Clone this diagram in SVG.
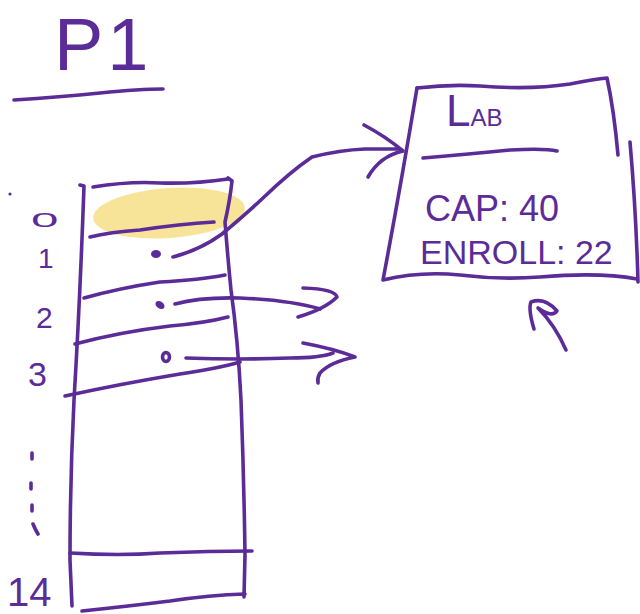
<svg xmlns="http://www.w3.org/2000/svg" width="640" height="614" viewBox="0 0 640 614">
  <defs>
    <style>
      .ink { fill: none; stroke: #5b2b97; stroke-width: 3.6; stroke-linecap: round; stroke-linejoin: round; }
      .dot { fill: #5b2b97; }
      .hand { fill: #5b2b97; font-family: "Liberation Sans", "DejaVu Sans", sans-serif; }
      .mark { fill: #f5d86e; opacity: 0.7; }
    </style>
  </defs>
  <rect width="640" height="614" fill="#ffffff"/>

  <!-- heading with underline -->
  <g id="title">
    <text class="hand" x="54" y="70" font-size="74" letter-spacing="4">P1</text>
    <path class="ink" d="M14,100 Q60,97 100,93 Q140,89 163,89"/>
  </g>

  <!-- array of 15 slots -->
  <g id="array">
    <ellipse class="mark" cx="169" cy="213" rx="76" ry="25" transform="rotate(-4 169 213)"/>
    <!-- side rails -->
    <path class="ink" d="M80,185 L84,186 Q80,300 74,400 Q70,480 70,560 L72,606"/>
    <path class="ink" d="M228,178 L232,181 Q230,200 225,222 Q228,260 231,290 Q238,340 241,400 Q244,480 245,555 L244,597"/>
    <!-- slot dividers -->
    <path class="ink" d="M93,187 Q130,181 160,183 Q195,184 228,179"/>
    <path class="ink" d="M90,237 Q110,232 140,230 Q180,224 214,222"/>
    <path class="ink" d="M84,298 Q120,288 160,282 Q200,280 225,275"/>
    <path class="ink" d="M75,344 Q120,332 170,326 Q205,323 228,317"/>
    <path class="ink" d="M65,396 Q120,384 180,374 Q220,368 240,362"/>
    <path class="ink" d="M70,553 Q120,556 160,553 Q210,551 252,551"/>
    <path class="ink" d="M82,611 Q130,606 170,601 Q210,595 245,594"/>
    <!-- reference dots -->
    <ellipse class="dot" cx="156" cy="254" rx="5" ry="4"/>
    <ellipse class="dot" cx="160" cy="305" rx="5" ry="3.5" transform="rotate(35 160 305)"/>
    <ellipse class="ink" cx="166" cy="357" rx="3.5" ry="4.5" stroke-width="3.2"/>
    <!-- indices -->
    <circle class="dot" cx="10" cy="194" r="1.6"/>
    <text class="hand" font-size="26" transform="translate(31 227) scale(1.9 0.75)">0</text>
    <text class="hand" x="38" y="268" font-size="28">1</text>
    <text class="hand" x="36" y="328" font-size="30">2</text>
    <text class="hand" x="28" y="386" font-size="34">3</text>
    <path class="ink" d="M32,453 L32,459 M31,483 L31,489 M32,505 L32,511 M33,524 Q35,529 38,534"/>
    <text class="hand" x="7" y="606" font-size="40">14</text>
  </g>

  <!-- Lab object -->
  <g id="lab-object">
    <path class="ink" d="M417,88 Q450,84 480,86 Q530,90 570,84 Q595,79 607,78 Q614,110 618,155"/>
    <path class="ink" d="M417,88 Q400,190 383,280 Q420,271 460,275 Q500,280 540,277 Q600,272 637,279"/>
    <path class="ink" d="M630,142 Q636,210 638,282"/>
    <text class="hand" x="446" y="126" font-size="44">L<tspan font-size="24">AB</tspan></text>
    <path class="ink" d="M423,158 Q470,154 510,150 Q545,148 557,151"/>
    <text class="hand" x="425" y="221" font-size="36">CAP: 40</text>
    <text class="hand" x="420" y="264" font-size="34">ENROLL: 22</text>
  </g>

  <!-- pointers -->
  <g id="connectors">
    <path class="ink" d="M173,257 Q200,250 222,234 Q245,215 263,198 Q290,172 312,157 Q340,150 365,149 L398,149"/>
    <path class="ink" d="M364,125 Q385,136 403,151 Q380,156 368,177"/>
    <path class="ink" d="M175,304 Q200,297 240,298 Q290,300 320,309"/>
    <path class="ink" d="M303,288 Q335,289 337,297 Q325,309 298,317"/>
    <path class="ink" d="M186,358 Q240,360 290,358 Q320,358 333,353"/>
    <path class="ink" d="M303,343 Q335,349 355,357 Q330,362 320,373 Q317,378 318,383"/>
    <path class="ink" d="M534,329 Q528,309 531,302 Q545,297 557,311 Q552,318 538,308 Q555,325 566,350"/>
  </g>
</svg>
